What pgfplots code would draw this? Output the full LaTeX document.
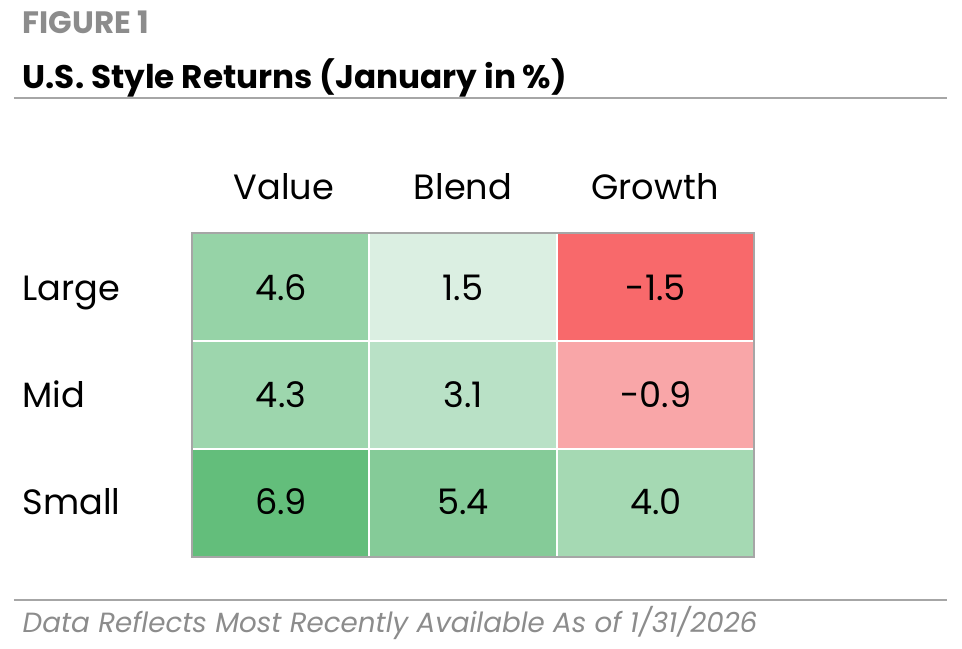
\documentclass[border=0pt]{standalone}
\usepackage{pgfplots}
\pgfplotsset{compat=1.18}
\usepackage{fontspec}
\setmainfont{Poppins}
\definecolor{cA}{HTML}{96D3A7}
\definecolor{cB}{HTML}{DBEFE2}
\definecolor{cC}{HTML}{F8696B}
\definecolor{cD}{HTML}{9DD6AD}
\definecolor{cE}{HTML}{B9E1C6}
\definecolor{cF}{HTML}{F9A6A8}
\definecolor{cG}{HTML}{63BE7B}
\definecolor{cH}{HTML}{85CB98}
\definecolor{cI}{HTML}{A5D9B3}
\definecolor{rule}{HTML}{A6A6A6}
\definecolor{fig}{HTML}{8C8C8C}
\begin{document}
\begin{tikzpicture}
\begin{axis}[width=9.62cm,height=6.49cm,scale only axis,
  xmin=0,xmax=962,ymin=0,ymax=649,y dir=reverse,hide axis,clip=false]
\fill[white] (axis cs:0,0) rectangle (axis cs:962,649);
% cells: columns 192-369, 369-557, 557-754; rows 233-341, 341-449, 449-557
\addplot[draw=none,fill=cA] coordinates {(192,233)(369,233)(369,341)(192,341)} --cycle;
\addplot[draw=none,fill=cB] coordinates {(369,233)(557,233)(557,341)(369,341)} --cycle;
\addplot[draw=none,fill=cC] coordinates {(557,233)(754,233)(754,341)(557,341)} --cycle;
\addplot[draw=none,fill=cD] coordinates {(192,341)(369,341)(369,449)(192,449)} --cycle;
\addplot[draw=none,fill=cE] coordinates {(369,341)(557,341)(557,449)(369,449)} --cycle;
\addplot[draw=none,fill=cF] coordinates {(557,341)(754,341)(754,449)(557,449)} --cycle;
\addplot[draw=none,fill=cG] coordinates {(192,449)(369,449)(369,557)(192,557)} --cycle;
\addplot[draw=none,fill=cH] coordinates {(369,449)(557,449)(557,557)(369,557)} --cycle;
\addplot[draw=none,fill=cI] coordinates {(557,449)(754,449)(754,557)(557,557)} --cycle;
% white grid lines
\addplot[white,line width=0.8pt] coordinates {(369,233)(369,557)};
\addplot[white,line width=0.8pt] coordinates {(557,233)(557,557)};
\addplot[white,line width=0.8pt] coordinates {(192,341)(754,341)};
\addplot[white,line width=0.8pt] coordinates {(192,449)(754,449)};
% border
\addplot[rule,line width=0.7pt] coordinates {(192,233)(754,233)(754,557)(192,557)} --cycle;
% rules
\addplot[rule,line width=0.85pt] coordinates {(14,98)(947,98)};
\addplot[rule,line width=0.85pt] coordinates {(14,600)(947,600)};
% values
\pgfplotsset{every node/.append style={font=\fontsize{7.6pt}{9pt}\selectfont}}
\node[anchor=base] at (axis cs:281,301) {4.6};
\node[anchor=base] at (axis cs:463,301) {1.5};
\node[anchor=base] at (axis cs:656,301) {-1.5};
\node[anchor=base] at (axis cs:281,408) {4.3};
\node[anchor=base] at (axis cs:463,408) {3.1};
\node[anchor=base] at (axis cs:656,408) {-0.9};
\node[anchor=base] at (axis cs:281,515) {6.9};
\node[anchor=base] at (axis cs:463,515) {5.4};
\node[anchor=base] at (axis cs:656,515) {4.0};
\node[anchor=base] at (axis cs:284,200) {Value};
\node[anchor=base] at (axis cs:463,200) {Blend};
\node[anchor=base] at (axis cs:655,200) {Growth};
\node[anchor=base west,inner sep=0pt] at (axis cs:22,301) {Large};
\node[anchor=base west,inner sep=0pt] at (axis cs:22,408) {Mid};
\node[anchor=base west,inner sep=0pt] at (axis cs:22,515) {Small};
\node[anchor=base west,inner sep=0pt,text=fig,font=\fontsize{8.8pt}{9pt}\selectfont\bfseries] at (axis cs:22,34) {FIGURE 1};
\node[anchor=base west,inner sep=0pt,font=\fontsize{9.3pt}{12pt}\selectfont\bfseries] at (axis cs:22,89) {U.S. Style Returns (January in \%)};
\node[anchor=base west,inner sep=0pt,text=fig,font=\fontsize{7.9pt}{10pt}\selectfont\itshape] at (axis cs:22,633) {Data Reflects Most Recently Available As of 1/31/2026};
\end{axis}
\end{tikzpicture}
\end{document}
